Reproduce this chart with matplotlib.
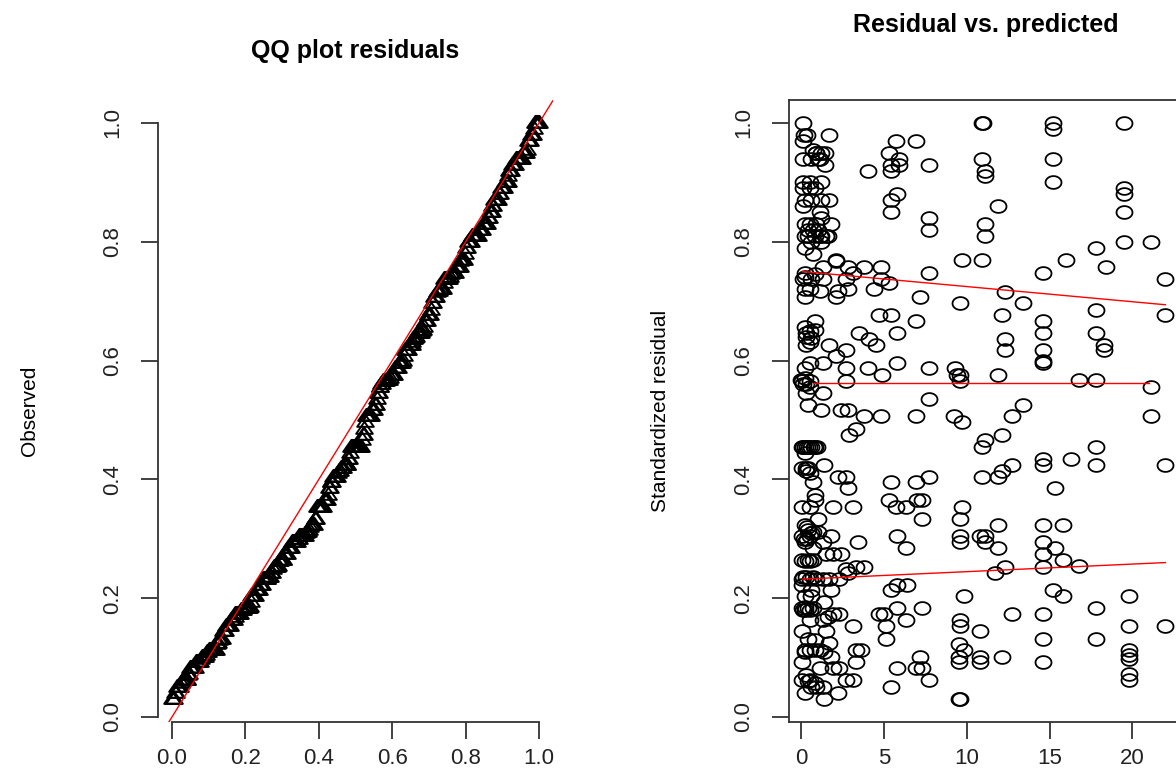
import numpy as np
import matplotlib
matplotlib.use("Agg")
import matplotlib.pyplot as plt
from matplotlib.path import Path

plt.rcParams['font.family'] = ['Liberation Sans', 'DejaVu Sans']

# simulated residuals (y) against model predictions (x)
pred = [
    0.1, 0.15, 0.35, 0.1, 1.7, 0.7, 0.9, 1.2, 1.45, 1.0, 0.1, 0.6, 1.45,
    5.7, 6.9, 5.3, 5.9, 5.4, 5.9, 5.4, 4.0, 7.7,
    10.9, 10.95, 10.9, 11.1, 11.1, 15.2, 15.2, 15.2, 15.2,
    19.5, 19.5, 19.5, 19.5, 19.5, 21.1, 17.8,
    11.9, 7.7, 7.7, 11.1, 11.1, 5.4, 5.8, 5.4,
    0.1, 0.5, 1.2, 0.1, 0.5, 0.8, 0.2, 0.6, 1.2, 1.7, 0.1, 1.1, 1.2, 0.2, 0.5, 1.8,
    0.7, 1.1, 1.5, 0.4, 0.2, 1.2, 1.6, 1.2, 0.2, 0.7, 2.1, 9.7, 10.9, 16.0,
    18.4, 1.3, 2.1, 2.8, 3.8, 4.8, 7.7, 14.6, 22.0,
    0.2, 0.6, 0.1, 1.3, 2.7, 3.1, 4.8, 5.3, 0.2, 1.1, 2.2, 2.8, 4.4, 0.2, 2.1, 7.2,
    12.3, 9.6, 13.4, 12.1, 17.8, 22.0, 4.7, 5.4, 6.9,
    14.6, 14.6, 14.6, 14.6, 14.6, 17.8, 18.3, 18.3, 12.3, 12.3, 5.8, 3.5, 4.1, 4.5,
    1.7, 2.7, 2.1, 0.2, 0.8, 0.3, 0.6, 0.3, 0.8, 0.5,
    1.3, 0.5, 0.2, 2.7, 4.0, 4.9, 5.8, 7.7, 9.3, 9.4, 9.6, 9.6, 11.9, 2.7,
    0.06, 0.5, 0.0, 0.5, 0.3, 1.3, 16.8, 17.8, 21.1, 7.7,
    0.4, 1.2, 2.4, 2.8, 13.4, 3.8, 4.8, 6.9, 9.2, 9.7, 12.7, 21.1,
    2.9, 3.3, 11.1, 10.9, 12.1, 17.8, 0.06, 0.25, 0.45, 0.75, 0.95, 0.2,
    14.6, 14.6, 16.3, 17.8, 22.0, 12.7, 12.1, 11.9, 10.9, 7.7, 6.9, 5.4, 2.2, 2.7,
    0.06, 0.3, 0.5, 1.4, 0.7, 2.8, 15.3, 0.8, 0.85, 5.3, 5.7, 6.3, 7.0, 7.3,
    0.06, 0.5, 1.9, 3.1, 9.7, 7.3, 9.6, 1.0,
    0.2, 0.4, 0.7, 1.0, 0.06, 0.5, 1.8, 11.9, 14.6, 15.8, 5.8, 9.6, 9.6, 10.8,
    11.1, 11.1, 3.4, 1.3, 0.2, 0.7, 6.3, 11.9, 14.6, 15.3, 14.6, 1.5, 1.9, 2.4,
    15.8, 0.06, 0.4, 0.7, 12.3, 14.6, 16.8, 2.7, 3.3, 3.8,
    11.7, 2.8, 2.3, 0.06, 0.5, 0.9, 1.3, 1.7, 5.8, 6.4, 5.4, 0.06, 0.6, 1.8,
    9.8, 15.2, 15.8, 19.8, 0.2, 0.6, 1.4,
    0.06, 0.4, 0.7, 5.8, 7.3, 17.8, 1.9, 2.3, 1.6, 4.7, 5.0, 12.7, 14.6,
    0.5, 1.3, 6.3, 9.6, 9.6, 3.1, 5.1, 19.8, 22.0, 0.06, 1.5, 10.8,
    5.1, 14.6, 17.8, 0.4, 0.8, 1.7, 9.5, 9.8, 19.8, 19.8, 19.8,
    0.2, 0.5, 0.8, 1.1, 3.3, 3.6, 1.8, 7.2, 9.5, 9.5, 10.8, 10.8, 12.1, 14.6,
    0.06, 3.3, 1.1, 1.9, 2.3, 5.8, 6.9, 7.3, 19.8, 19.8,
    0.3, 0.06, 0.5, 0.8, 1.3, 2.7, 3.1, 7.7, 5.4, 0.2, 2.2, 1.4, 9.5, 9.6,
    0.1, 0.35, 0.6, 0.85, 0.1, 0.25, 0.55, 0.2, 0.1, 0.3, 0.7, 0.2, 0.55,
    0.15, 0.35, 0.6, 0.35, 0.1, 0.3, 0.2, 0.4, 0.6, 0.8, 1.0, 0.9, 0.9, 1.1,
    0.3, 0.5, 0.2, 0.8, 0.5, 0.4, 0.6, 0.9, 0.2, 1.4, 0.3, 0.4,
]
resid = [
    1.0, 0.98, 0.98, 0.97, 0.98, 0.955, 0.95, 0.95, 0.95, 0.94, 0.94, 0.94, 0.93,
    0.97, 0.97, 0.95, 0.94, 0.93, 0.93, 0.92, 0.92, 0.93,
    1.0, 1.0, 0.94, 0.92, 0.91, 1.0, 0.99, 0.94, 0.90,
    1.0, 0.89, 0.88, 0.85, 0.80, 0.80, 0.79,
    0.86, 0.84, 0.82, 0.83, 0.81, 0.87, 0.88, 0.85,
    0.90, 0.90, 0.90, 0.89, 0.89, 0.89, 0.87, 0.87, 0.87, 0.87, 0.86, 0.85, 0.84, 0.83, 0.83, 0.83,
    0.82, 0.81, 0.81, 0.82, 0.81, 0.81, 0.81, 0.80, 0.79, 0.78, 0.77, 0.77, 0.77, 0.77,
    0.758, 0.758, 0.767, 0.758, 0.758, 0.758, 0.747, 0.747, 0.737,
    0.747, 0.738, 0.737, 0.738, 0.738, 0.747, 0.738, 0.73, 0.72, 0.718, 0.718, 0.72, 0.72, 0.707, 0.707, 0.707,
    0.716, 0.697, 0.697, 0.677, 0.686, 0.677, 0.677, 0.677, 0.667,
    0.667, 0.647, 0.617, 0.600, 0.596, 0.647, 0.626, 0.617, 0.636, 0.617, 0.647, 0.647, 0.636, 0.626,
    0.626, 0.617, 0.607, 0.657, 0.667, 0.647, 0.638, 0.626, 0.652, 0.632,
    0.596, 0.596, 0.587, 0.587, 0.587, 0.576, 0.596, 0.587, 0.587, 0.576, 0.576, 0.566, 0.576, 0.566,
    0.566, 0.566, 0.568, 0.556, 0.545, 0.545, 0.567, 0.567, 0.556, 0.535,
    0.525, 0.517, 0.517, 0.517, 0.525, 0.506, 0.506, 0.506, 0.506, 0.496, 0.506, 0.506,
    0.475, 0.485, 0.466, 0.455, 0.475, 0.455, 0.455, 0.455, 0.455, 0.455, 0.455, 0.444,
    0.435, 0.425, 0.435, 0.424, 0.424, 0.424, 0.414, 0.404, 0.404, 0.404, 0.395, 0.395, 0.404, 0.404,
    0.42, 0.414, 0.41, 0.424, 0.395, 0.385, 0.385, 0.374, 0.365, 0.365, 0.354, 0.354, 0.365, 0.365,
    0.354, 0.354, 0.354, 0.354, 0.354, 0.334, 0.334, 0.334,
    0.324, 0.315, 0.312, 0.312, 0.305, 0.305, 0.305, 0.324, 0.324, 0.324, 0.305, 0.305, 0.294, 0.305,
    0.305, 0.294, 0.294, 0.294, 0.294, 0.284, 0.284, 0.284, 0.294, 0.284, 0.274, 0.274, 0.274, 0.274,
    0.264, 0.264, 0.264, 0.264, 0.253, 0.253, 0.255, 0.25, 0.253, 0.253,
    0.242, 0.242, 0.233, 0.233, 0.233, 0.233, 0.233, 0.233, 0.222, 0.222, 0.214, 0.222, 0.214, 0.213,
    0.203, 0.214, 0.203, 0.203, 0.203, 0.203, 0.194,
    0.183, 0.183, 0.183, 0.183, 0.183, 0.183, 0.173, 0.173, 0.168, 0.173, 0.173, 0.173, 0.173,
    0.163, 0.163, 0.163, 0.163, 0.153, 0.153, 0.153, 0.153, 0.153, 0.144, 0.144, 0.144,
    0.132, 0.132, 0.132, 0.132, 0.13, 0.125, 0.123, 0.113, 0.113, 0.105, 0.097,
    0.113, 0.113, 0.113, 0.113, 0.113, 0.113, 0.101, 0.101, 0.101, 0.093, 0.101, 0.093, 0.101, 0.093,
    0.093, 0.093, 0.082, 0.082, 0.082, 0.082, 0.082, 0.082, 0.072, 0.062,
    0.07, 0.062, 0.062, 0.058, 0.051, 0.062, 0.062, 0.062, 0.051, 0.041, 0.041, 0.031, 0.031, 0.031,
    0.455, 0.455, 0.455, 0.455, 0.18, 0.18, 0.18, 0.185, 0.235, 0.235, 0.235, 0.262, 0.262,
    0.30, 0.30, 0.31, 0.32, 0.56, 0.56, 0.57, 0.81, 0.80, 0.81, 0.82, 0.83, 0.95, 0.94,
    0.64, 0.65, 0.74, 0.745, 0.72, 0.06, 0.05, 0.05, 0.11, 0.11, 0.42, 0.42,
]

# quantile regression lines (0.25, 0.5, 0.75) of residual on prediction
q_x = [0.05, 22.0]
q50_x = [0.7, 21.0]
q25 = [0.232, 0.260]
q50 = [0.562, 0.562]
q75 = [0.750, 0.694]

ticks01 = [0.0, 0.2, 0.4, 0.6, 0.8, 1.0]
tick01_labels = ["0.0", "0.2", "0.4", "0.6", "0.8", "1.0"]
pred_ticks = [0, 5, 10, 15, 20]

# expected uniform quantiles for the QQ plot (ppoints)
observed = np.sort(np.array(resid))
n = len(observed)
expected = (np.arange(1, n + 1) - 0.5) / n

# slightly wide markers, the original picture is stretched sideways
t = np.linspace(0, 2 * np.pi, 60)
circ = Path(np.column_stack([0.5 * np.cos(t), 0.4 * np.sin(t)]), closed=True)
tri = Path([(-0.5, -0.26), (0.5, -0.26), (0.0, 0.46), (-0.5, -0.26)], closed=True)

axcol = "#333333"
W, H = 1176, 772
fig = plt.figure(figsize=(W / 100, H / 100), dpi=100)
ax1 = fig.add_axes([158 / W, 50 / H, 395 / W, 622 / H])
ax2 = fig.add_axes([789 / W, 50 / H, 394 / W, 622 / H])

# QQ plot
ax1.plot(expected, observed, ls="none", marker=tri, ms=12, mfc="none",
         mec="black", mew=1.4)
ax1.axline((0, 0), slope=1, color="red", lw=1.0)
ax1.set_xlim(-0.038, 1.038)
ax1.set_ylim(-0.0084, 1.0387)
ax1.spines["top"].set_visible(False)
ax1.spines["right"].set_visible(False)
ax1.spines["left"].set_bounds(0, 1)
ax1.spines["bottom"].set_bounds(0, 1)
ax1.set_xticks(ticks01, tick01_labels)
ax1.set_title("QQ plot residuals", fontsize=18, fontweight="bold", pad=30)
ax1.set_ylabel("Observed", fontsize=15)
ax1.yaxis.set_label_coords(-0.325, 0.5)

# residual vs predicted
ax2.plot(pred, resid, ls="none", marker=circ, ms=11.5, mfc="none",
         mec="black", mew=1.3)
ax2.plot(q_x, q25, color="red", lw=1.0)
ax2.plot(q50_x, q50, color="red", lw=1.0)
ax2.plot(q_x, q75, color="red", lw=1.0)
ax2.set_xlim(-0.743, 23.06)
ax2.set_ylim(-0.0084, 1.0387)
ax2.set_xticks(pred_ticks)
ax2.set_title("Residual vs. predicted", fontsize=18, fontweight="bold", pad=49)
ax2.set_ylabel("Standardized residual", fontsize=15)
ax2.yaxis.set_label_coords(-0.327, 0.5)

for ax in (ax1, ax2):
    ax.set_yticks(ticks01, tick01_labels)
    ax.yaxis.label.set_verticalalignment("center")
    for sp in ax.spines.values():
        sp.set_color(axcol)
        sp.set_linewidth(1.3)
    ax.tick_params(axis="both", direction="out", length=12, width=1.3,
                   color=axcol, labelsize=16, labelcolor="#222222")
    ax.tick_params(axis="y", labelrotation=90, pad=13)
    ax.tick_params(axis="x", pad=7)
    for lab in ax.get_yticklabels():
        lab.set_verticalalignment("center")

plt.savefig("out.png", dpi=100)
print("done", flush=True)
